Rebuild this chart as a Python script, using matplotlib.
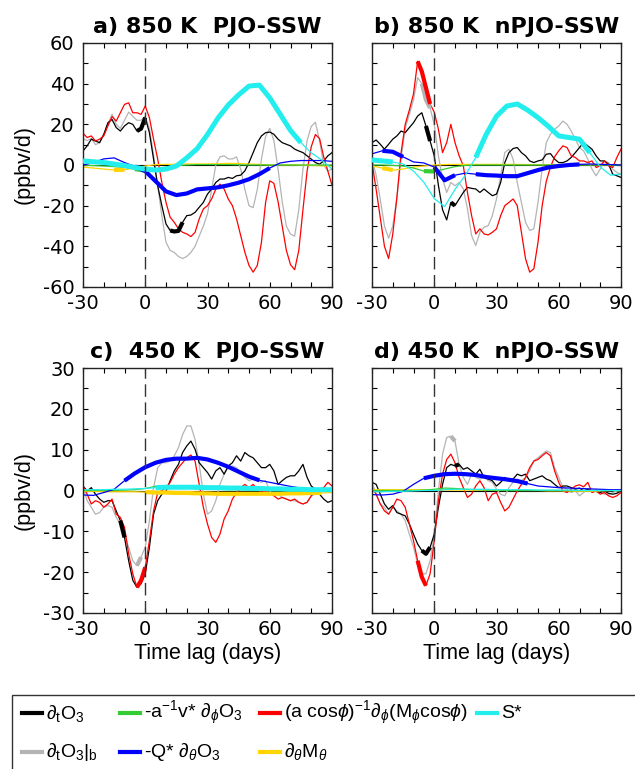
import numpy as np
import matplotlib.pyplot as plt
from matplotlib.lines import Line2D
from matplotlib.patches import Rectangle

plt.rcParams['font.family'] = ['DejaVu Sans']
plt.rcParams['axes.unicode_minus'] = False
plt.rcParams['mathtext.fontset'] = 'custom'
plt.rcParams['mathtext.rm'] = 'Liberation Sans'
plt.rcParams['mathtext.it'] = 'Liberation Sans:italic'
plt.rcParams['mathtext.fallback'] = 'stixsans'

# time lag grids (days)
days2 = np.arange(-30, 91, 2)
days5 = np.arange(-30, 91, 5)

# ---- a) 850 K PJO-SSW ----
a_black = [6.9, 9.4, 12.7, 11.8, 11, 15, 20.8, 22.4, 18.4, 16.7, 19.2, 20.8, 20, 16.7, 17.9, 23.3,
           15.9, 2.9, -10.2, -20, -29, -32.2, -32.7, -32.4, -28.2, -24.9, -24.6, -23.3, -20.8, -18.4, -14.3,
           -11.8, -8.6, -6.9, -6.9, -6.1, -6.6, -5.3, -5, -2.9, 1.2, 6.1, 11, 14.3, 15.9, 16.2,
           15.1, 12.7, 11, 10.2, 9.4, 7.8, 6.9, 6.1, 4.5, 2.9, 1.2, 0.4, 2, 4.5, 6.1]
a_gray = [13, 12, 13, 10, 11, 15, 20, 25, 20, 18, 22, 26, 24, 22, 22, 24,
          18, 5, -10, -25, -38, -42, -43, -45, -46, -45, -43, -40, -35, -30, -24,
          -12, 0, 4, 4.5, 3, 3, 4, -2, -12, -20, -21, -12, 3, 14, 18,
          12, -2, -18, -30, -34, -35, -22, -2, 12, 19, 21, 12, 0, -3, -2]
a_red = [15.6, 13.5, 14.3, 11.8, 12.7, 14.3, 19.2, 23.8, 21.6, 25.7, 29.8, 30.6, 25.7, 25.7, 24.9, 29,
         23.3, 12.7, 2.9, -8.6, -18.4, -25.7, -28.2, -31.4, -33.1, -33.9, -35.2, -33.1, -26.5, -21.6, -20,
         -16.7, -11.8, -9.4, -11.8, -16.7, -20, -26.5, -34.7, -42.9, -49.4, -52.7, -49.4, -38, -18.4, -7.8,
         -9, -18, -30, -42, -49, -51.5, -42, -22, -3, 9, 15, 13, 4, -3, -10]
a_green = [0, -0.3, -0.5, -0.8, -1.2, -2, -2.8, -2, -1, -0.3, 0, 0.2, 0.2,
           0.2, 0.2, 0.1, 0, 0, 0, 0, 0, 0, 0, 0, 0]
a_blue = [0, 1.2, 3, 3.5, 1.2, -0.7, -3, -8, -13, -14.8, -14, -12, -11.5,
          -11, -10, -8.7, -7, -4.5, -1.5, 1, 1.8, 2.2, 2.2, 2.2, 1.8]
a_yellow = [-1, -1.5, -2, -2.5, -2.3, -1.5, -0.5, 0.2, 0.3, 0.4, 0.5, 0.5, 0.5,
            0.6, 0.8, 0.7, 0.5, 0.3, 0, 0, 0, -0.1, -0.2, -0.4, -0.5]
a_cyan = [2, 1.6, 1.2, 0.5, -0.3, -1.2, -2, -2.5, -2, -0.5, 3.5, 8, 15,
          23, 29.5, 34.5, 38.8, 39.3, 33, 25, 17, 11, 6, 2.5, -2]

# ---- b) 850 K nPJO-SSW ----
b_black = [11, 12.3, 10.2, 7.8, 10.2, 12.7, 14.3, 16.7, 15.9, 18.4, 20.8, 24.1, 25.7, 19.2, 11.8, 4.5,
           -10, -22, -27, -18.4, -20, -16.7, -13.5, -11, -11.5, -11.8, -13.5, -11.8, -13.5, -15.1, -14.3,
           -8.6, 1.2, 6.1, 8.1, 8.6, 6.1, 4.5, 2, 1.2, 2, 2.5, 5.3, 5.6, 2.9, 1.2,
           1.2, 2, 3.7, 6.1, 8.6, 11, 9.4, 7.8, 4.5, 2, 2, 0.4, -4.5, -5.3, -6.1]
b_gray = [3, -5, -17, -30, -36, -30, -16, 3, 18, 25, 32, 43, 40, 32, 28, 20,
          4.5, -6.9, -13.5, -8.6, -10.2, -8.6, -11.8, -21.6, -34.7, -39.6, -33.1, -30.6, -29.8, -24.9, -16.7,
          -5.3, 6.1, 7.8, 2.9, -8.6, -18.4, -28.2, -32.2, -31.4, -18.4, -2, 11, 15.1, 17.6, 19.2,
          21.6, 20, 16.7, 12.7, 8.6, 6.9, 2.9, -2, -5.3, -2, 2, 1.2, -2, -3.7, -4.5]
b_red = [1.2, -12, -26, -40, -46, -34, -16, 6, 20, 27, 35, 51, 46, 38, 30, 26,
         17.6, 6.1, 11, 20, 11, 4.5, -0.4, -13.5, -24.9, -33.9, -31.4, -33.9, -34.4, -33.1, -31.4,
         -24.9, -20, -18.4, -16.7, -20, -33.1, -46.1, -52.7, -51, -38, -20, -8, -1, 4, 7,
         9.4, 8.6, 4.5, 3.7, 2, 2, 1.2, 2, -1.2, -0.4, 2, -0.4, -1.2, 3.7, 7.8]
b_green = [0, 0, -0.2, -0.5, -1.5, -3, -3.2, -2, -0.8, -0.2, 0, 0, 0,
           0, 0, 0, 0, 0, 0, 0, 0, 0, 0, 0, 0]
b_blue = [5.5, 7, 6.5, 4, 1.5, 1, -1, -7.5, -5, -4, -4.5, -5, -5.2,
          -5.5, -5.5, -4, -2.5, -1.2, -0.5, 0, 0.3, 0.5, 0.3, 0.2, 0]
b_yellow = [-0.5, -1.5, -2.5, -2, -1, -0.5, 0, 0.2, 0.3, 0.3, 0.3, 0.3, 0.3,
            0.3, 0.3, 0.2, 0.2, 0.2, 0.2, 0.2, 0.2, 0.2, 0.2, 0.2, 0.2]
b_cyan = [2.5, 2, 1.5, 0.5, -3, -8.5, -16.5, -20.5, -12, -5, 3.7, 15, 24,
          29, 30, 27, 23.3, 19, 14.3, 13.5, 12.7, 6, -1, -5, -4.5]

# ---- c) 450 K PJO-SSW ----
c_black = [1.1, -0.1, 0.7, -0.9, -2.1, -2.9, -2.5, -2.5, -5, -7.4, -11.5, -17.2, -22, -23.7, -22.8, -20.4,
           -13.9, -5.8, -2.5, -0.9, -0.2, 2.4, 4.8, 6.4, 9.3, 10.9, 12.1, 10.1, 6.8, 5.6, 4.4,
           2.8, 4.8, 5.6, 4, 6, 6.8, 8.5, 7.2, 9.3, 8.5, 8, 6.8, 5.6, 5.6, 6.4,
           4.8, 1.5, 2.4, 3.2, 3.6, 3.6, 4.8, 6.4, 3.2, 1.1, 0.3, -0.9, -2.1, -2.9, -2.5]
c_gray = [0.7, -2.5, -4.1, -5.8, -5.4, -4.1, -3.7, -4.1, -6.6, -8.2, -10.7, -13.9, -17.2, -18.4, -16.3, -13.9,
          -7.4, 0.7, 5.6, 6.8, 6.8, 7.2, 8.5, 10.5, 13.7, 15.8, 15.8, 12.5, 6.4, -0.9, -5.8,
          -5, -2.5, 1.5, 4, 5.6, 6, 5.6, 4.4, 3.2, 2.4, 2.8, 2.4, 2, 2.4, -0.1,
          -1.3, -0.9, -1.7, -2.1, -2.5, -2.5, -2.9, -3.3, -2.9, -1.3, -0.9, -0.5, -0.1, 0.1, 0.3]
c_red = [1.1, -0.9, -3.3, -2.5, -2.9, -4.1, -3.3, -2.1, -5.8, -6.6, -9, -15.5, -20.4, -23.7, -22, -18.8,
         -12.3, -5, -0.5, -0.1, 0.7, 2, 4, 5.6, 6.8, 8, 8.7, 7.2, 1.5, -4.1, -8.2,
         -11.5, -12.7, -10.7, -7, -5, -2.1, -0.5, 0.7, 1.5, 0.7, 1.5, 0.3, -0.5, -0.1, -0.5,
         -1.3, -2.1, -1.7, -2.1, -2.5, -2.1, -2.9, -3.3, -2.9, -1.3, -0.1, 0.3, 0.7, 2, 1.1]
c_green = [0, 0, 0, 0, 0.1, 0.2, 0.5, 1, 1.2, 1, 0.6, 0.4, 0.3,
           0.3, 0.2, 0.2, 0.2, 0.1, 0.1, 0.1, 0.1, 0, 0, 0, 0]
c_blue = [-1.1, -1.2, -0.5, 0.3, 2.4, 4.2, 5.7, 6.8, 7.5, 7.8, 7.8, 8, 7.6,
          6.8, 5.8, 4.6, 3.4, 2.5, 2, 1.5, 1, 0.6, 0.2, 0, 0]
c_yellow = [-0.2, -0.2, -0.3, -0.3, -0.3, -0.3, -0.4, -0.5, -0.5, -0.6, -0.6, -0.7, -0.7,
            -0.8, -0.8, -0.8, -0.8, -0.8, -0.8, -0.8, -0.7, -0.7, -0.6, -0.6, -0.5]
c_cyan = [0.2, 0.2, 0.2, 0.3, 0.3, 0.4, 0.5, 0.7, 0.8, 0.8, 0.8, 0.8, 0.7,
          0.7, 0.6, 0.6, 0.5, 0.5, 0.4, 0.4, 0.3, 0.3, 0.2, 0.2, 0.2]

# ---- d) 450 K nPJO-SSW ----
d_black = [2, 1.5, -0.9, -3.3, -4.6, -3.7, -5.4, -5.8, -6.2, -8.2, -10.7, -13.1, -14.7, -15.5, -13.9, -10.7,
           -4.1, 1.5, 5.6, 6.4, 6, 6.4, 5.2, 5.6, 4.8, 4, 5.2, 3.2, 2.8, 2.4, 1.1,
           2, 3.2, 2.4, 2.8, 4, 3.6, 4, 2.4, 2.8, 3.2, 3.6, 2.8, 2.4, 1.5, 0.7,
           1.1, 1.1, 0.7, 0.3, 0.6, -0.1, 0.3, -0.1, -0.2, -0.5, -0.1, -0.7, -0.9, -0.7, -0.1]
d_gray = [2, -0.9, -3.3, -4.1, -5.8, -4.1, -5, -5.8, -7.4, -10.7, -13.9, -18, -20.4, -20.4, -17.2, -10.7,
          -0.1, 8.9, 13, 13.3, 12.1, 6.4, 3.2, 1.5, 4, 3.2, 2.8, 3.2, 2.4, 2, 0.3,
          -0.9, -1.3, 0.7, 2, 2.8, 2.4, 3.2, 4.8, 7.3, 8, 8.9, 9.7, 9.3, 5.6, 3.2,
          0.7, 0.3, -0.5, -0.1, -1.3, -0.5, 0.3, -0.1, 0.3, -0.5, -0.9, -0.9, -0.5, -0.1, -0.1]
d_red = [0.7, -0.9, -3.3, -5, -5.8, -4.1, -2.1, -2.5, -4.1, -8.2, -12.3, -17.2, -21.2, -23.3, -20.4, -12.3,
         -2.5, 4, 7.6, 8.9, 6.8, 3.2, 0.7, -1.7, -0.9, 1.1, 2.4, 0.7, -2.5, -0.9, -0.5,
         -2.9, -5, -4.1, -2.1, -0.1, 1.5, 3.2, 5.6, 7.2, 7.6, 8.5, 9.3, 8.5, 4.8, 2,
         -0.1, -0.5, 0.3, 1.1, 1.4, 0.9, 2, -0.5, -0.1, -0.9, -0.5, -1.3, -1.7, -1.3, -0.5]
d_green = [0, 0, 0, 0, 0, 0.1, 0.3, 0.6, 0.5, 0.3, 0.2, 0.1, 0.1,
           0, 0, 0, 0, 0, 0, 0, 0, 0, 0, 0, 0]
d_blue = [-1, -1.1, -0.9, -0.2, 1.5, 3, 3.6, 4, 4.1, 4, 3.8, 3.3, 3,
          2.7, 2.3, 1.7, 1.1, 0.9, 0.7, 0.6, 0.5, 0.4, 0.3, 0.2, 0.2]
d_yellow = [0.2, 0.2, 0.2, 0.2, 0.2, 0.2, 0.1, 0.1, 0.1, 0.1, 0.1, 0.1, 0,
            0, 0, 0, 0, -0.1, -0.1, -0.1, -0.2, -0.2, -0.1, 0, 0]
d_cyan = [-0.3, -0.3, -0.2, -0.2, -0.1, 0, 0, 0.2, 0.3, 0.3, 0.3, 0.3, 0.2,
          0.2, 0.2, 0.2, 0.1, 0.1, 0.1, 0.1, 0, 0, 0, 0, 0]

# significant (thick) day ranges per term
a_sig = {'gray': [], 'black': [(-4, 0), (12, 18)], 'red': [], 'yellow': [(-15, -10)],
         'green': [(-5, 0)], 'blue': [(-5, 60)], 'cyan': [(-30, 75)]}
b_sig = {'gray': [(-6, -2)], 'black': [(-4, -2), (8, 10)], 'red': [(-8, -2)], 'yellow': [(-25, -20)],
         'green': [(-5, 0)], 'blue': [(-25, -15), (0, 10), (20, 70)], 'cyan': [(-30, -20), (20, 75)]}
c_sig = {'gray': [(-4, -2)], 'black': [(-12, -10)], 'red': [(-4, 0)], 'yellow': [(0, 85)],
         'green': [], 'blue': [(-10, 55)], 'cyan': [(5, 90)]}
d_sig = {'gray': [(8, 10)], 'black': [(-6, -2), (10, 12)], 'red': [(-8, -4)], 'yellow': [],
         'green': [], 'blue': [(-5, 45)], 'cyan': []}

colors = {'black': 'black', 'gray': '#b4b4b4', 'green': '#33cc33', 'red': '#ff0000',
          'blue': '#0000ff', 'yellow': '#ffd400', 'cyan': '#22eeee'}

LABEL_FONT = dict(family='Liberation Sans', fontsize=15.5)


def draw_panel(ax, series, sig, ylim, ystep, title, left_labels, bottom_labels):
    ax.axhline(0, color='black', lw=0.8, zorder=1)
    for name in ['gray', 'black', 'red', 'yellow', 'green', 'blue', 'cyan']:
        x, y = series[name]
        x = np.asarray(x)
        y = np.asarray(y, dtype=float)
        ax.plot(x, y, color=colors[name], lw=0.9, zorder=2)
        if sig[name]:
            mask = np.zeros_like(x, dtype=bool)
            for lo, hi in sig[name]:
                mask |= (x >= lo) & (x <= hi)
            lw = 3.6 if name == 'cyan' else 3.0
            ax.plot(x, np.where(mask, y, np.nan), color=colors[name], lw=lw,
                    solid_capstyle='butt', zorder=3)
    ax.axvline(0, color='#333333', lw=1.0, dashes=(9, 4), zorder=4)
    ax.set_xlim(-30, 90)
    ax.set_ylim(*ylim)
    ax.set_xticks([-30, 0, 30, 60, 90])
    ax.set_xticks(np.arange(-30, 91, 10), minor=True)
    ax.set_yticks(np.arange(ylim[0], ylim[1] + 1, 2 * ystep))
    ax.set_yticks(np.arange(ylim[0], ylim[1] + 1, ystep), minor=True)
    ax.tick_params(which='both', direction='in', top=True, right=True, length=3.5,
                   width=0.8, labelsize=14)
    ax.tick_params(axis='x', pad=5)
    ax.tick_params(axis='y', pad=6)
    if not left_labels:
        ax.set_yticklabels([])
    else:
        ax.set_ylabel('(ppbv/d)', labelpad=6, **LABEL_FONT)
    if bottom_labels:
        ax.set_xlabel('Time lag (days)', labelpad=3, **LABEL_FONT)
    for s in ax.spines.values():
        s.set_linewidth(1.0)
        s.set_color('#222222')
    ax.set_title(title, fontsize=16, fontweight='bold', pad=7)


def make_series(blk, gry, red, grn, blu, yel, cyn):
    return {'black': (days2, blk), 'gray': (days2, gry), 'red': (days2, red),
            'green': (days5, grn), 'blue': (days5, blu), 'yellow': (days5, yel),
            'cyan': (days5, cyn)}


W, H = 635, 769
fig = plt.figure(figsize=(W / 100, H / 100), dpi=100)
w, h = 249 / W, 244 / H
ax_a = fig.add_axes([83 / W, 1 - 287 / H, w, h])
ax_b = fig.add_axes([372 / W, 1 - 287 / H, w, h])
ax_c = fig.add_axes([83 / W, 1 - 613 / H, w, 245 / H])
ax_d = fig.add_axes([372 / W, 1 - 613 / H, w, 245 / H])

draw_panel(ax_a, make_series(a_black, a_gray, a_red, a_green, a_blue, a_yellow, a_cyan),
           a_sig, (-60, 60), 10, 'a) 850 K  PJO-SSW', True, False)
draw_panel(ax_b, make_series(b_black, b_gray, b_red, b_green, b_blue, b_yellow, b_cyan),
           b_sig, (-60, 60), 10, 'b) 850 K  nPJO-SSW', False, False)
draw_panel(ax_c, make_series(c_black, c_gray, c_red, c_green, c_blue, c_yellow, c_cyan),
           c_sig, (-30, 30), 5, 'c)  450 K  PJO-SSW', True, True)
draw_panel(ax_d, make_series(d_black, d_gray, d_red, d_green, d_blue, d_yellow, d_cyan),
           d_sig, (-30, 30), 5, 'd) 450 K  nPJO-SSW', False, True)

# legend box (runs off the right and bottom edge like the original)
fig.add_artist(Rectangle((12 / W, -0.05), 1.0, 1 - 695 / H + 0.05, transform=fig.transFigure,
                         fill=False, edgecolor='#333333', lw=1.0, clip_on=False))

labels = [r'$\partial_{\mathrm{t}}\mathrm{O_3}$',
          r'$\partial_{\mathrm{t}}\mathrm{O_3}|_{\mathrm{b}}$',
          r'-a$^{-1}$v* $\partial_{\phi}$O$_3$',
          r'-Q* $\partial_{\theta}$O$_3$',
          r'(a cos$\phi$)$^{-1}$$\partial_{\phi}$(M$_{\phi}$cos$\phi$)',
          r'$\partial_{\theta}$M$_{\theta}$',
          'S*']
order = ['black', 'gray', 'green', 'blue', 'red', 'yellow', 'cyan']
col_x = [22, 120, 260, 477]
row_y = [713, 752]
for i, (key, lab) in enumerate(zip(order, labels)):
    cx, ry = col_x[i // 2], row_y[i % 2]
    fig.add_artist(Line2D([cx / W, (cx + 20) / W], [1 - ry / H, 1 - ry / H],
                          transform=fig.transFigure, color=colors[key], lw=3))
    fig.text((cx + 24) / W, 1 - ry / H, lab, va='center', ha='left',
             family='Liberation Sans', fontsize=14)

fig.savefig('out.png', dpi=100)
